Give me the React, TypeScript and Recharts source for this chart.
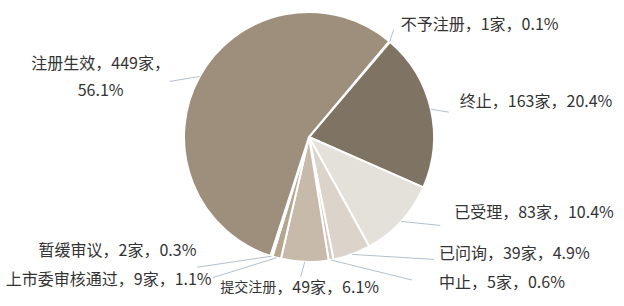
import React from 'react';
import { Cell, Pie, PieChart } from 'recharts';

// 状态分布（家数），顺时针方向
const names = ['不予注册', '终止', '已受理', '已问询', '中止', '提交注册', '上市委审核通过', '暂缓审议', '注册生效'];
const counts = [1, 163, 83, 39, 5, 49, 9, 2, 449];
const colors = ['#8c7e6e', '#7f7363', '#e4e0da', '#dcd4cb', '#d2c8bc', '#c8baaa', '#b5a692', '#aa9b88', '#9e8e7c'];

// label placement: line end offset from slice edge, text offset from line end
const labelLayout = [
    { line: [4, -12], text: [7, -7], anchor: 'start' },
    { line: [18, 3], text: [11, -12], anchor: 'start' },
    { line: [39, 4], text: [14, -14], anchor: 'start' },
    { line: [82, 5], text: [5, -7], anchor: 'start' },
    { line: [81, 20], text: [27, 1], anchor: 'start' },
    { line: [-4, 15], text: [-1, 9], anchor: 'middle', nameSize: 14 },
    { line: [-64, 20], text: [-1, 0], anchor: 'end' },
    { line: [-74, 11], text: [-1, -18], anchor: 'end' },
    { line: [-30, 5], text: [-69, -19], anchor: 'middle', wrap: true },
];

const data = names.map((name, i) => ({ name, value: counts[i] }));

const RADIAN = Math.PI / 180;
const FONT = 16;

//@ts-ignore
const renderLabel = ({ cx, cy, midAngle, outerRadius, percent, index, name, value }) => {
    const lay = labelLayout[index];
    const x0 = cx + outerRadius * Math.cos(-midAngle * RADIAN);
    const y0 = cy + outerRadius * Math.sin(-midAngle * RADIAN);
    const x1 = x0 + lay.line[0];
    const y1 = y0 + lay.line[1];
    const tx = x1 + lay.text[0];
    const ty = y1 + lay.text[1];
    const pct = `${(Math.round(percent * 1000) / 10).toFixed(1)}%`;
    return (
        <g>
            <line x1={x0} y1={y0} x2={x1} y2={y1} stroke="#b3c0cc" strokeWidth={1} />
            {lay.wrap ? (
                <text x={tx} y={ty} fill="#333333" fontSize={FONT} textAnchor="middle" dominantBaseline="central">
                    <tspan x={tx} dy={0}>{`${name}，${value}家，`}</tspan>
                    <tspan x={tx} dy={27}>{pct}</tspan>
                </text>
            ) : (
                <text x={tx} y={ty} fill="#333333" fontSize={FONT} textAnchor={lay.anchor} dominantBaseline="central">
                    <tspan fontSize={lay.nameSize || FONT}>{name}</tspan>
                    <tspan>{`，${value}家，${pct}`}</tspan>
                </text>
            )}
        </g>
    );
};

export default function App() {
    return (
        <div style={{ position: 'absolute', left: 0, top: 0, fontFamily: '"Noto Sans CJK SC", "Noto Sans", sans-serif' }}>
            <PieChart width={624} height={306} margin={{ top: 0, right: 0, bottom: 0, left: 0 }}>
                <Pie
                    data={data}
                    dataKey="value"
                    nameKey="name"
                    cx={309}
                    cy={137}
                    outerRadius={125}
                    startAngle={50}
                    endAngle={-310}
                    stroke="#ffffff"
                    strokeWidth={2}
                    label={renderLabel}
                    labelLine={false}
                    isAnimationActive={false}
                >
                    {data.map((d, i) => <Cell key={`cell-${i}`} fill={colors[i]} />)}
                </Pie>
            </PieChart>
        </div>
    );
}
